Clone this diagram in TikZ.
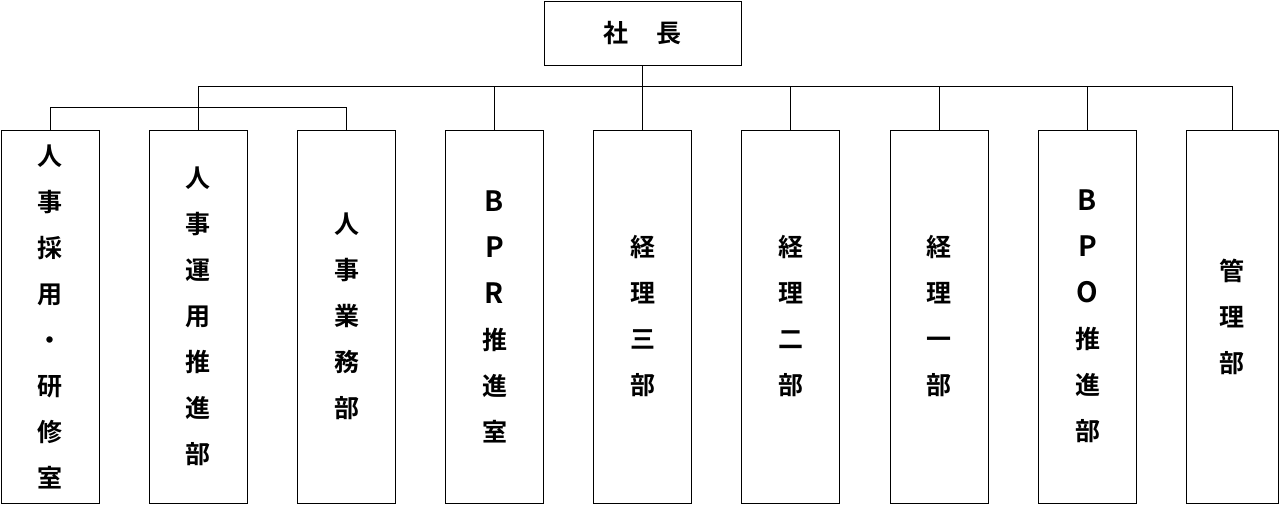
\documentclass[tikz,border=0pt]{standalone}
\usepackage{fontspec}
\newfontfamily\jp{Noto Sans CJK JP}[BoldFont={* Bold}]
\newcommand{\latn}[1]{{\fontsize{28}{46}\selectfont #1}}
\begin{document}
\begin{tikzpicture}[x=1pt,y=-1pt,
  box/.style={draw,line width=0.9pt,minimum width=98pt,minimum height=373pt,inner sep=0pt,align=center,
    font={\jp\bfseries\fontsize{25}{46}\selectfont}},
  conn/.style={line width=0.9pt}]
\useasboundingbox (0,0) rectangle (1280,506);
\node[draw,line width=0.9pt,minimum width=197pt,minimum height=64pt,inner sep=0pt,font={\jp\bfseries\fontsize{25}{30}\selectfont}] (ceo) at (642.5,33) {社\hspace{1.15em}長};
\node[box] (b1) at (50,316.5) {人\\事\\採\\用\\・\\研\\修\\室};
\node[box] (b2) at (198,316.5) {人\\事\\運\\用\\推\\進\\部};
\node[box] (b3) at (346.5,316.5) {人\\事\\業\\務\\部};
\node[box] (b4) at (494.5,316.5) {\latn{B}\\\latn{P}\\\latn{R}\\推\\進\\室};
\node[box] (b5) at (642.5,316.5) {経\\理\\三\\部};
\node[box] (b6) at (790.5,316.5) {経\\理\\二\\部};
\node[box] (b7) at (939,316.5) {経\\理\\一\\部};
\node[box] (b8) at (1087.5,316.5) {\latn{B}\\\latn{P}\\\latn{O}\\推\\進\\部};
\node[box,minimum width=92pt] (b9) at (1232,316.5) {管\\理\\部};
\coordinate (j) at (642.5,87);
\draw[conn] (ceo.south) -- (j);
\draw[conn] (b2.north) -- ++(0,-43) -| (b9.north);
\foreach \b in {b4,b5,b6,b7,b8}{\draw[conn] (\b.north) -- (\b.north |- j);}
\draw[conn] (b1.north) -- ++(0,-22) -| (b3.north);
\end{tikzpicture}
\end{document}
